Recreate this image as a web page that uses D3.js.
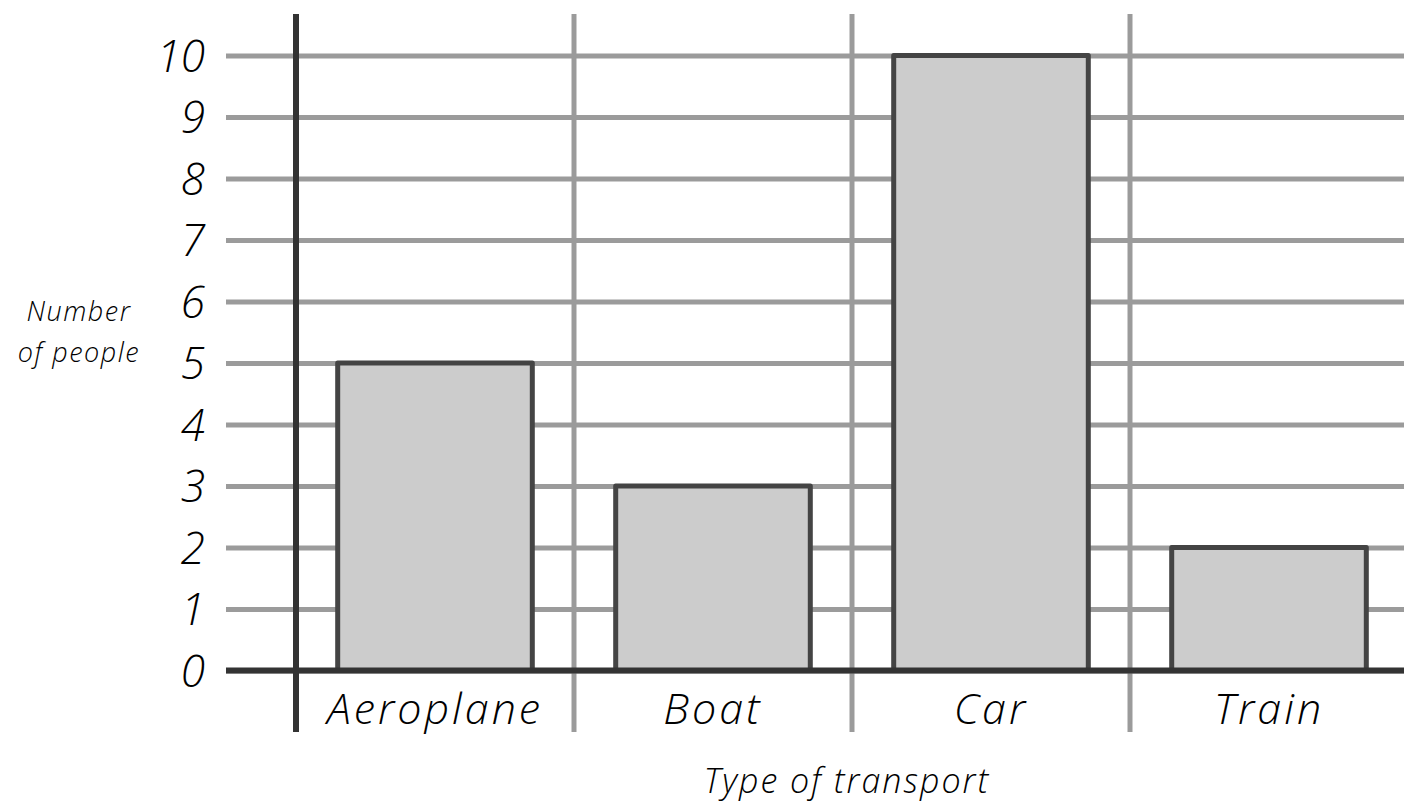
<!DOCTYPE html>
<html>
<head>
<meta charset="utf-8">
<title>Type of transport</title>
<style>
  body { margin: 0; background: #fff; }
  text { font-family: "Open Sans", sans-serif; font-style: italic; font-weight: 350; fill: #000; }
</style>
</head>
<body>
<svg id="chart" width="1404" height="804"></svg>

<script src="https://d3js.org/d3.v7.min.js"></script>
<script>

const categories = ['Aeroplane', 'Boat', 'Car', 'Train'];
const people = [5, 3, 10, 2];
const yTicks = [0, 1, 2, 3, 4, 5, 6, 7, 8, 9, 10];

const data = categories.map((c, i) => ({ name: c, value: people[i] }));

const svg = d3.select('#chart');

const x = d3.scaleBand()
    .domain(categories)
    .range([296, 1408]);

const xBar = d3.scaleBand()
    .domain(categories)
    .range([296, 1408])
    .paddingInner(0.3)
    .paddingOuter(0.15);

const y = d3.scaleLinear()
    .domain([0, 10])
    .range([670.5, 55.5]);

// horizontal grid + value labels
svg.append('g')
    .attr('class', 'y-grid')
    .attr('transform', 'translate(226,0)')
    .call(d3.axisLeft(y)
        .tickValues(yTicks)
        .tickSize(-(1404 - 226))
        .tickPadding(21)
        .tickFormat(d3.format('d')))
    .call(g => g.select('.domain').remove())
    .call(g => g.selectAll('.tick line')
        .attr('stroke', '#9b9b9b')
        .attr('stroke-width', 5))
    .call(g => g.selectAll('.tick text')
        .attr('font-family', null)
        .attr('fill', null)
        .style('font-size', '44px')
        .attr('dy', '0.36em'));

// vertical grid on band edges
svg.append('g')
    .attr('class', 'x-grid')
    .selectAll('line')
    .data(categories.slice(1))
    .join('line')
        .attr('x1', d => x(d))
        .attr('x2', d => x(d))
        .attr('y1', 14)
        .attr('y2', 732)
        .attr('stroke', '#9b9b9b')
        .attr('stroke-width', 5);

// bars
svg.append('g')
    .attr('class', 'bars')
    .selectAll('rect')
    .data(data)
    .join('rect')
        .attr('x', d => xBar(d.name))
        .attr('y', d => y(d.value))
        .attr('width', xBar.bandwidth())
        .attr('height', d => y(0) - y(d.value))
        .attr('fill', '#cccccc')
        .attr('stroke', '#444')
        .attr('stroke-width', 5)
        .attr('stroke-linejoin', 'round');

// baseline
svg.append('line')
    .attr('x1', 226)
    .attr('x2', 1404)
    .attr('y1', y(0))
    .attr('y2', y(0))
    .attr('stroke', '#333')
    .attr('stroke-width', 6);

// y axis line
svg.append('line')
    .attr('x1', 296)
    .attr('x2', 296)
    .attr('y1', 14)
    .attr('y2', 732)
    .attr('stroke', '#333')
    .attr('stroke-width', 6);

// category labels
svg.append('g')
    .attr('class', 'x-axis')
    .attr('transform', `translate(0,${y(0)})`)
    .call(d3.axisBottom(x).tickSize(0).tickPadding(0))
    .call(g => g.select('.domain').remove())
    .call(g => g.selectAll('.tick text')
        .attr('font-family', null)
        .attr('fill', null)
        .attr('y', 53)
        .attr('dy', null)
        .style('font-size', '43px')
        .style('letter-spacing', '3px'));

// axis titles
svg.append('text')
    .attr('x', 847)
    .attr('y', 793)
    .attr('text-anchor', 'middle')
    .style('font-size', '34px')
    .style('letter-spacing', '2px')
    .text('Type of transport');

const yTitle = svg.append('text')
    .attr('text-anchor', 'middle')
    .style('font-size', '27px')
    .style('letter-spacing', '1.5px');
yTitle.append('tspan').attr('x', 79).attr('y', 321).text('Number');
yTitle.append('tspan').attr('x', 79).attr('y', 362).text('of people');

</script>
</body>
</html>
